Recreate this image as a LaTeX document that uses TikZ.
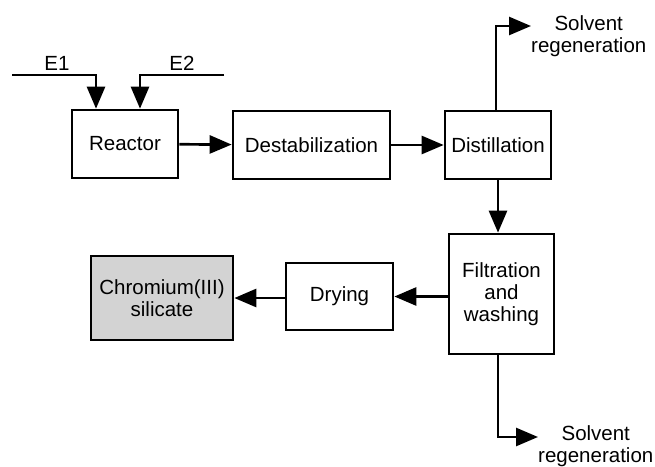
\documentclass[tikz,border=0pt]{standalone}
\usepackage{fontspec}
\setmainfont{Liberation Sans}
\usetikzlibrary{arrows.meta}
\begin{document}
\begin{tikzpicture}[x=1pt,y=-1pt,
  every node/.style={font=\fontsize{20.5}{22}\selectfont},
  proc/.style={draw=black,line width=2.7pt,minimum width=#1,inner sep=0pt,align=center},
  flow/.style={line width=2.7pt,-{Triangle[length=22pt,width=18pt]}},
  lbl/.style={align=center,inner sep=0pt}]
\useasboundingbox (0,0) rectangle (655,466);
\node[proc=106pt,minimum height=68pt] (reac) at (125,144) {Reactor};
\node[proc=157pt,minimum height=68pt] (dest) at (311.5,145) {Destabilization};
\node[proc=106pt,minimum height=68pt] (dist) at (498,145) {Distillation};
\node[proc=105pt,minimum height=120pt] (filt) at (501.5,294) {Filtration\\and\\washing};
\node[proc=107pt,minimum height=67pt] (dry) at (339.5,296.5) {Drying};
\node[proc=142pt,minimum height=84pt,fill={rgb,255:red,211;green,211;blue,211}] (chrom) at (162,298) {Chromium(III)\\silicate};
\node[lbl] (e1) at (57,63) {E1};
\node[lbl] (e2) at (182,63) {E2};
\node[lbl,anchor=west] (sr1) at (531,36) {Solvent\\regeneration};
\node[lbl,anchor=west] (sr2) at (538,446) {Solvent\\regeneration};
\coordinate (e1s) at (12,75);
\coordinate (e2s) at (224,75);
\draw[flow] (e1s) -| ([xshift=-29pt]reac.north);
\draw[flow] (e2s) -| ([xshift=15pt]reac.north);
\draw[flow] (reac) -- (dest);
\draw[flow] (dest) -- (dist);
\draw[flow] ([xshift=-2pt]dist.north) |- ([yshift=10pt]sr1.west);
\draw[flow] (dist.south) -- (dist.south |- filt.north);
\draw[flow] (filt.west |- dry.east) -- (dry.east);
\draw[flow] (dry.west |- chrom.east) -- (chrom.east);
\draw[flow] ([xshift=-3.5pt]filt.south) |- ([yshift=9pt]sr2.west);
\end{tikzpicture}
\end{document}
